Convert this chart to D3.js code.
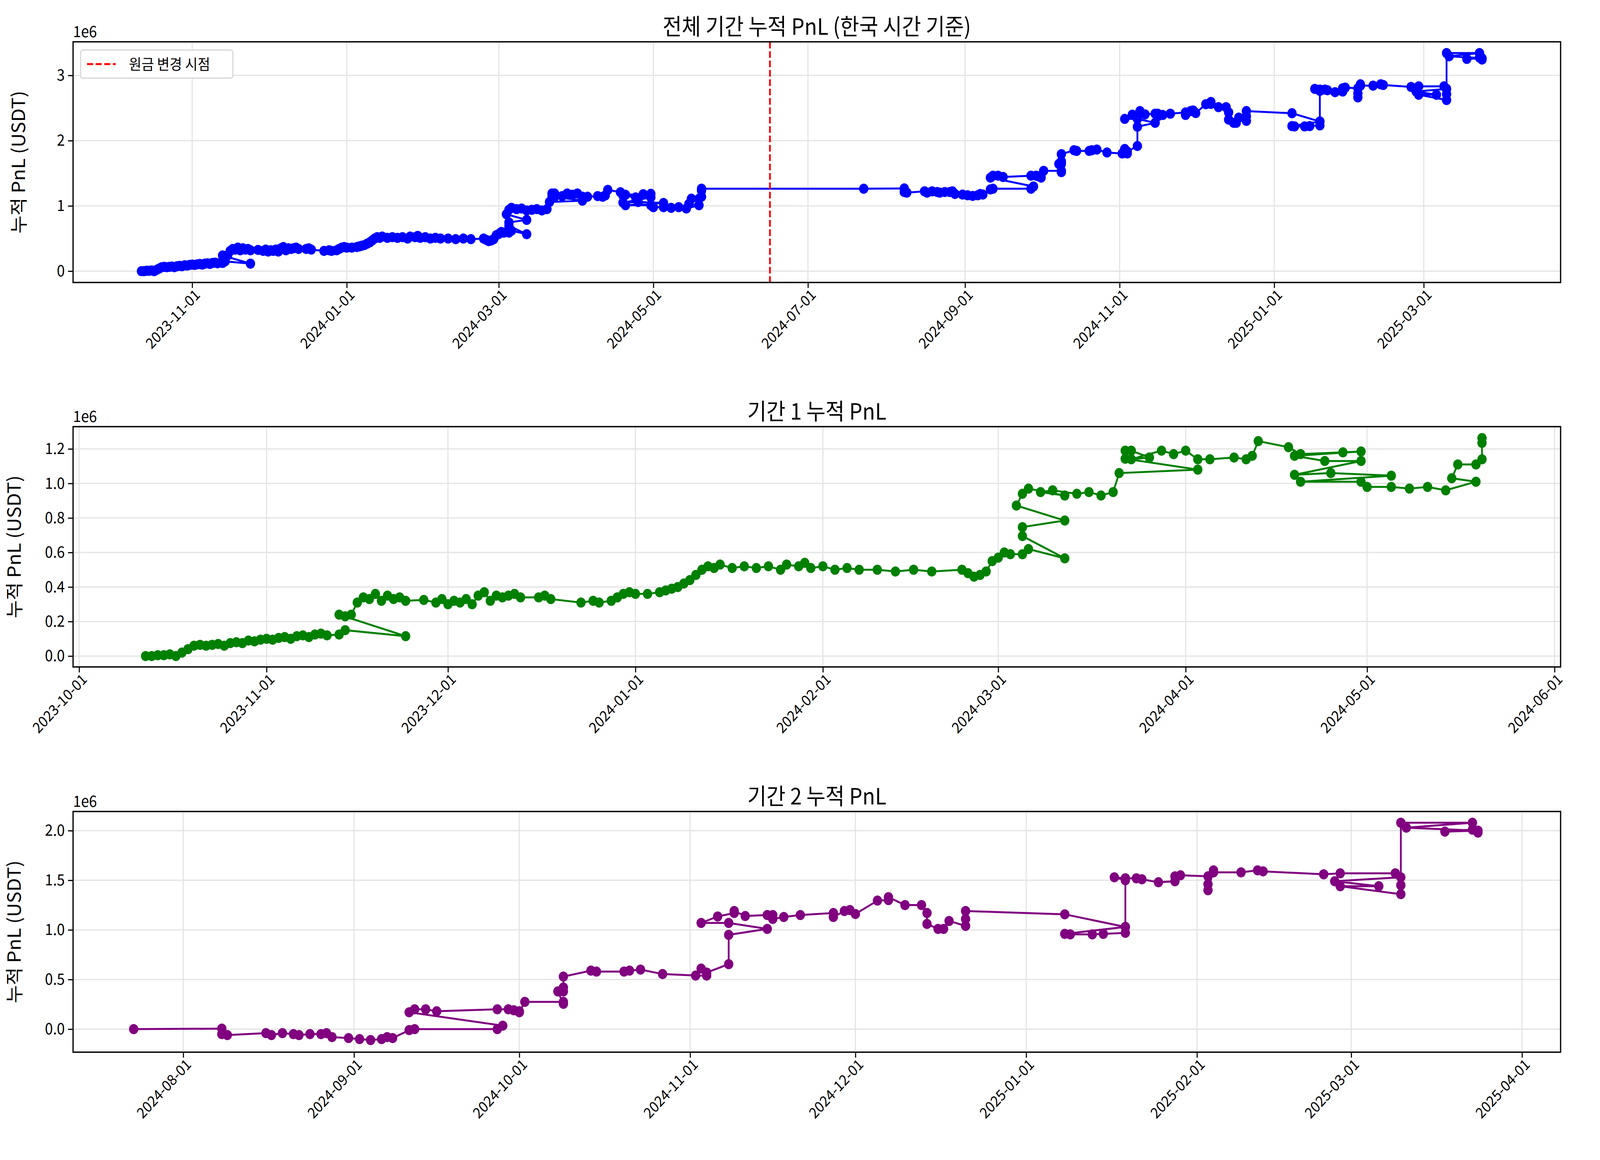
<!DOCTYPE html>
<html><head><meta charset="utf-8">
<script src="https://cdn.jsdelivr.net/npm/d3@7"></script>
<style>html,body{margin:0;padding:0;background:#fff;overflow:hidden}svg{display:block;width:100vw;height:100vh}</style></head>
<body><svg id="c" viewBox="0 0 4467 2969" preserveAspectRatio="none"></svg>
<script>
const FONT='"Noto Sans CJK KR","Noto Sans",sans-serif';
const titles=["전체 기간 누적 PnL (한국 시간 기준)","기간 1 누적 PnL","기간 2 누적 PnL"];
const yLabel="누적 PnL (USDT)";
const legendLabel="원금 변경 시점";
const changeDate="2024-06-16";
// period 1: [date, cumulative PnL in millions]
const period1=[
["2023-10-12",0.0],["2023-10-13",0.0],["2023-10-14",0.005],["2023-10-15",0.005],["2023-10-16",0.01],["2023-10-17",0.0],["2023-10-18",0.02],["2023-10-19",0.04],["2023-10-20",0.06],["2023-10-21",0.065],["2023-10-22",0.06],["2023-10-23",0.065],["2023-10-24",0.07],["2023-10-25",0.06],["2023-10-26",0.075],["2023-10-27",0.08],["2023-10-28",0.075],["2023-10-29",0.09],["2023-10-30",0.085],["2023-10-31",0.095],["2023-11-01",0.10],["2023-11-02",0.095],["2023-11-03",0.105],["2023-11-04",0.11],["2023-11-05",0.10],["2023-11-06",0.115],["2023-11-07",0.12],["2023-11-08",0.11],["2023-11-09",0.125],["2023-11-10",0.13],["2023-11-11",0.12],["2023-11-13",0.125],["2023-11-14",0.15],["2023-11-24",0.115],["2023-11-13",0.24],["2023-11-14",0.23],["2023-11-15",0.24],["2023-11-16",0.31],["2023-11-17",0.34],["2023-11-18",0.33],["2023-11-19",0.36],["2023-11-20",0.32],["2023-11-21",0.35],["2023-11-22",0.33],["2023-11-23",0.34],["2023-11-24",0.32],["2023-11-27",0.325],["2023-11-29",0.31],["2023-11-30",0.33],["2023-12-01",0.30],["2023-12-02",0.32],["2023-12-03",0.31],["2023-12-04",0.33],["2023-12-05",0.30],["2023-12-06",0.35],["2023-12-07",0.37],["2023-12-08",0.32],["2023-12-09",0.35],["2023-12-10",0.34],["2023-12-11",0.35],["2023-12-12",0.36],["2023-12-13",0.34],["2023-12-16",0.34],["2023-12-17",0.35],["2023-12-18",0.33],["2023-12-23",0.31],["2023-12-25",0.32],["2023-12-26",0.31],["2023-12-28",0.32],["2023-12-29",0.34],["2023-12-30",0.36],["2023-12-31",0.37],["2024-01-01",0.36],["2024-01-03",0.36],["2024-01-05",0.37],["2024-01-06",0.38],["2024-01-07",0.39],["2024-01-08",0.40],["2024-01-09",0.42],["2024-01-10",0.44],["2024-01-11",0.47],["2024-01-12",0.50],["2024-01-13",0.52],["2024-01-14",0.51],["2024-01-15",0.53],["2024-01-17",0.51],["2024-01-19",0.52],["2024-01-21",0.51],["2024-01-23",0.52],["2024-01-25",0.50],["2024-01-26",0.53],["2024-01-28",0.52],["2024-01-29",0.54],["2024-01-30",0.51],["2024-02-01",0.52],["2024-02-03",0.50],["2024-02-05",0.51],["2024-02-07",0.50],["2024-02-10",0.50],["2024-02-13",0.49],["2024-02-16",0.50],["2024-02-19",0.49],["2024-02-24",0.50],["2024-02-25",0.48],["2024-02-26",0.46],["2024-02-27",0.47],["2024-02-28",0.49],["2024-02-29",0.55],["2024-03-01",0.57],["2024-03-02",0.60],["2024-03-03",0.59],
["2024-03-05",0.59],["2024-03-06",0.62],["2024-03-12",0.566],["2024-03-05",0.695],["2024-03-05",0.747],["2024-03-12",0.785],["2024-03-04",0.872],["2024-03-05",0.94],["2024-03-06",0.97],["2024-03-12",0.93],["2024-03-08",0.95],["2024-03-10",0.96],["2024-03-14",0.94],["2024-03-16",0.95],["2024-03-18",0.93],["2024-03-20",0.95],["2024-03-21",1.06],["2024-04-03",1.08],["2024-03-22",1.143],["2024-03-22",1.19],["2024-03-23",1.19],["2024-03-26",1.15],["2024-03-23",1.14],["2024-03-28",1.19],["2024-03-30",1.17],["2024-04-01",1.19],["2024-04-03",1.14],["2024-04-05",1.14],["2024-04-09",1.15],["2024-04-11",1.14],["2024-04-12",1.16],["2024-04-13",1.245],["2024-04-18",1.21],["2024-04-20",1.17],["2024-04-27",1.18],["2024-04-30",1.185],["2024-04-19",1.16],["2024-04-24",1.13],["2024-04-30",1.13],["2024-04-19",1.05],["2024-04-25",1.06],["2024-05-05",1.045],["2024-04-20",1.01],["2024-04-30",1.01],["2024-05-01",0.98],["2024-05-05",0.98],["2024-05-08",0.97],["2024-05-11",0.98],["2024-05-14",0.96],["2024-05-19",1.01],["2024-05-15",1.03],["2024-05-16",1.11],["2024-05-19",1.11],["2024-05-20",1.14],["2024-05-20",1.235],["2024-05-20",1.263]
];
const period2=[
["2024-07-23",0.0],["2024-08-08",0.005],["2024-08-08",-0.05],["2024-08-09",-0.06],["2024-08-16",-0.04],["2024-08-17",-0.06],["2024-08-19",-0.04],["2024-08-21",-0.05],["2024-08-22",-0.06],["2024-08-24",-0.05],["2024-08-26",-0.05],["2024-08-27",-0.04],["2024-08-28",-0.08],["2024-08-31",-0.09],["2024-09-02",-0.10],["2024-09-04",-0.11],["2024-09-06",-0.10],["2024-09-07",-0.08],["2024-09-08",-0.09],["2024-09-11",-0.01],["2024-09-12",0.0],["2024-09-27",0.0],["2024-09-28",0.035],["2024-09-11",0.17],["2024-09-12",0.20],["2024-09-14",0.20],["2024-09-16",0.18],["2024-09-27",0.20],["2024-09-29",0.20],["2024-09-30",0.19],["2024-10-01",0.18],["2024-10-01",0.17],["2024-10-02",0.275],["2024-10-09",0.275],["2024-10-09",0.255],["2024-10-08",0.38],["2024-10-09",0.38],["2024-10-09",0.42],["2024-10-09",0.53],["2024-10-14",0.59],["2024-10-15",0.58],["2024-10-20",0.58],["2024-10-21",0.59],["2024-10-23",0.60],["2024-10-27",0.555],["2024-11-02",0.54],["2024-11-04",0.54],["2024-11-03",0.61],["2024-11-04",0.57],["2024-11-08",0.655],["2024-11-08",0.95],["2024-11-15",1.01],["2024-11-08",1.07],["2024-11-03",1.07],["2024-11-06",1.135],["2024-11-09",1.17],["2024-11-09",1.19],["2024-11-11",1.14],["2024-11-15",1.15],["2024-11-16",1.15],["2024-11-16",1.11],["2024-11-18",1.13],["2024-11-21",1.15],["2024-11-27",1.17],["2024-11-27",1.13],["2024-11-29",1.19],["2024-11-30",1.20],["2024-12-01",1.16],["2024-12-05",1.295],["2024-12-07",1.30],["2024-12-07",1.33],["2024-12-10",1.25],["2024-12-13",1.25],["2024-12-14",1.17],["2024-12-14",1.06],["2024-12-16",1.01],["2024-12-17",1.01],["2024-12-18",1.09],["2024-12-21",1.04],["2024-12-21",1.11],["2024-12-21",1.19],["2025-01-08",1.157],["2025-01-19",1.03],["2025-01-08",0.96],["2025-01-09",0.955],["2025-01-13",0.955],["2025-01-15",0.96],["2025-01-19",0.97],["2025-01-19",1.03],["2025-01-19",1.50],["2025-01-17",1.53],["2025-01-19",1.52],["2025-01-21",1.52],["2025-01-22",1.51],["2025-01-25",1.48],["2025-01-28",1.49],["2025-01-28",1.54],["2025-01-29",1.55],["2025-02-03",1.54],["2025-02-03",1.46],["2025-02-03",1.40],["2025-02-04",1.60],["2025-02-04",1.58],["2025-02-09",1.58],["2025-02-12",1.60],["2025-02-13",1.59],["2025-02-24",1.56],["2025-02-27",1.57],["2025-03-09",1.57],["2025-03-10",1.53],["2025-02-26",1.49],["2025-03-06",1.44],["2025-02-27",1.44],["2025-03-10",1.36],["2025-03-10",1.45],["2025-03-10",2.08],["2025-03-23",2.08],["2025-03-11",2.03],["2025-03-24",2.00],["2025-03-18",1.99],["2025-03-23",2.01],["2025-03-24",1.98]
];
const ticks1=["2023-11-01","2024-01-01","2024-03-01","2024-05-01","2024-07-01","2024-09-01","2024-11-01","2025-01-01","2025-03-01"];
const ticks2=["2023-10-01","2023-11-01","2023-12-01","2024-01-01","2024-02-01","2024-03-01","2024-04-01","2024-05-01","2024-06-01"];
const ticks3=["2024-08-01","2024-09-01","2024-10-01","2024-11-01","2024-12-01","2025-01-01","2025-02-01","2025-03-01","2025-04-01"];
const yt1=[0,1,2,3], yt2=[0,0.2,0.4,0.6,0.8,1.0,1.2], yt3=[0,0.5,1.0,1.5,2.0];

const P=d3.timeParse("%Y-%m-%d");
const offset=period1[period1.length-1][1];
const full=period1.concat(period2.map(d=>[d[0],d[1]+offset]));
const panels=[
 {data:full,color:"blue",top:107,bot:723,xd:["2023-09-15","2025-04-24"],yd:[-0.174,3.515],xt:ticks1,yt:yt1,fmt:d3.format("d"),vline:true},
 {data:period1,color:"green",top:1092,bot:1707,xd:["2023-09-30","2024-06-02"],yd:[-0.063,1.329],xt:ticks2,yt:yt2,fmt:d3.format(".1f")},
 {data:period2,color:"purple",top:2077,bot:2693,xd:["2024-07-12","2025-04-08"],yd:[-0.232,2.193],xt:ticks3,yt:yt3,fmt:d3.format(".1f")}
];
const L=204,R=4357;
const svg=d3.select("#c");
panels.forEach((p,i)=>{
 const x=d3.scaleTime().domain(p.xd.map(P)).range([L,R]);
 const y=d3.scaleLinear().domain(p.yd).range([p.bot,p.top]);
 const g=svg.append("g");
 g.selectAll(".gx").data(p.xt).join("line").attr("x1",d=>x(P(d))).attr("x2",d=>x(P(d))).attr("y1",p.top).attr("y2",p.bot).attr("stroke","#e3e3e3").attr("stroke-width",3);
 g.selectAll(".gy").data(p.yt).join("line").attr("x1",L).attr("x2",R).attr("y1",d=>y(d)).attr("y2",d=>y(d)).attr("stroke","#e3e3e3").attr("stroke-width",3);
 const clip="cl"+i;
 svg.append("clipPath").attr("id",clip).append("rect").attr("x",L).attr("y",p.top).attr("width",R-L).attr("height",p.bot-p.top);
 const m=g.append("g").attr("clip-path",`url(#${clip})`);
 m.append("path").datum(p.data).attr("fill","none").attr("stroke",p.color).attr("stroke-width",5)
  .attr("d",d3.line().x(d=>x(P(d[0]))).y(d=>y(d[1])));
 m.selectAll("circle").data(p.data).join("circle").attr("cx",d=>x(P(d[0]))).attr("cy",d=>y(d[1])).attr("r",13).attr("fill",p.color);
 if(p.vline){
  m.append("line").attr("x1",x(P(changeDate))).attr("x2",x(P(changeDate))).attr("y1",p.top).attr("y2",p.bot).attr("stroke","red").attr("stroke-width",5).attr("stroke-dasharray","17,7");
 }
 const xa=g.append("g").attr("transform",`translate(0,${p.bot})`).call(d3.axisBottom(x).tickValues(p.xt.map(P)).tickFormat(d3.timeFormat("%Y-%m-%d")).tickSize(14).tickSizeOuter(0));
 xa.select(".domain").remove();
 xa.selectAll("line").attr("stroke-width",3);
 xa.selectAll("text").attr("font-family",FONT).attr("font-size",38).attr("fill","#000").attr("text-anchor","end").attr("dy",0).attr("transform","translate(12,22) rotate(-45)");
 const ya=g.append("g").attr("transform",`translate(${L},0)`).call(d3.axisLeft(y).tickValues(p.yt).tickFormat(p.fmt).tickSize(14).tickSizeOuter(0));
 ya.select(".domain").remove();
 ya.selectAll("line").attr("stroke-width",3);
 ya.selectAll("text").attr("font-family",FONT).attr("font-size",40).attr("fill","#000").attr("dx",-6);
 g.append("rect").attr("x",L).attr("y",p.top).attr("width",R-L).attr("height",p.bot-p.top).attr("fill","none").attr("stroke","#000").attr("stroke-width",3.5);
 g.append("text").attr("x",L).attr("y",p.top-12).attr("font-family",FONT).attr("font-size",40).text("1e6");
 g.append("text").attr("x",(L+R)/2).attr("y",p.top-18).attr("text-anchor","middle").attr("font-family",FONT).attr("font-size",58).text(titles[i]);
 g.append("text").attr("transform",`translate(${i==0?70:58},${(p.top+p.bot)/2}) rotate(-90)`).attr("text-anchor","middle").attr("font-family",FONT).attr("font-size",50).text(yLabel);
 if(p.vline){
  const lg=g.append("g");
  lg.append("rect").attr("x",225).attr("y",128).attr("width",425).attr("height",72).attr("rx",6).attr("fill","#fff").attr("stroke","#d5d5d5").attr("stroke-width",3);
  lg.append("line").attr("x1",243).attr("x2",323).attr("y1",164).attr("y2",164).attr("stroke","red").attr("stroke-width",5).attr("stroke-dasharray","17,7");
  lg.append("text").attr("x",360).attr("y",178).attr("font-family",FONT).attr("font-size",38).text(legendLabel);
 }
});
</script></body></html>
